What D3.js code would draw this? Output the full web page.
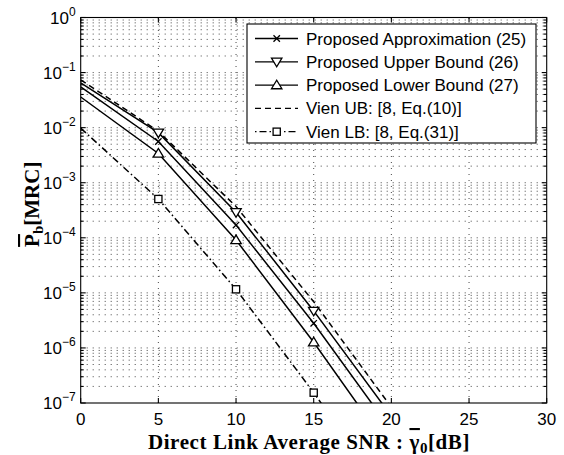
<!DOCTYPE html>
<html>
<head>
<meta charset="utf-8">
<script src="https://cdn.jsdelivr.net/npm/d3@7"></script>
<style>
  body { margin: 0; background: #fff; }
  svg { display: block; }
</style>
</head>
<body>
<svg id="chart" width="564" height="455"></svg>
<script>
// Average SNR of the direct link (dB) at which each curve is evaluated
const snrDb = [0, 5, 10, 15, 20];
// Points that carry a marker
const markerSnr = [5, 10, 15];

// Bit error probability for MRC
const approxVals  = [0.055, 5.6e-3, 1.7e-4, 2.8e-6, 3.2e-8];
const upperVals   = [0.065, 8.1e-3, 2.9e-4, 4.7e-6, 5.8e-8];
const lowerVals   = [0.036, 3.4e-3, 9.1e-5, 1.27e-6, 1.3e-8];
const vienUbVals  = [0.074, 8.6e-3, 3.7e-4, 6.9e-6, 8.4e-8];
const vienLbVals  = [0.0098, 5.06e-4, 1.16e-5, 1.54e-7, 1.6e-9];

const xTicks = [0, 5, 10, 15, 20, 25, 30];
const yExponents = [0, -1, -2, -3, -4, -5, -6, -7];

const seriesNames = [
  "Proposed Approximation (25)",
  "Proposed Upper Bound (26)",
  "Proposed Lower Bound (27)",
  "Vien UB: [8, Eq.(10)]",
  "Vien LB: [8, Eq.(31)]"
];

const series = [
  { name: seriesNames[0], values: approxVals, marker: "x",    dash: null },
  { name: seriesNames[1], values: upperVals,  marker: "tdown", dash: null },
  { name: seriesNames[2], values: lowerVals,  marker: "tup",  dash: null },
  { name: seriesNames[3], values: vienUbVals, marker: null,   dash: "6,4" },
  { name: seriesNames[4], values: vienLbVals, marker: "square", dash: "7,3,1.5,3" }
];

const svg = d3.select("#chart");
const plot = { left: 80.7, top: 17.5, right: 546.7, bottom: 403 };

const x = d3.scaleLinear().domain([0, 30]).range([plot.left, plot.right]);
const y = d3.scaleLog().domain([1e-7, 1]).range([plot.bottom, plot.top]);

const tickFont = "'Liberation Sans', Arial, Helvetica, sans-serif";
const texFont = "'Liberation Serif', 'Times New Roman', serif";

// grid
const grid = svg.append("g").attr("class", "grid")
  .attr("stroke", "#333").attr("stroke-width", 0.9).attr("stroke-dasharray", "1,5");
xTicks.slice(1, -1).forEach(t => {
  grid.append("line").attr("x1", x(t)).attr("x2", x(t))
    .attr("y1", plot.bottom).attr("y2", plot.top);
});
const yMajor = yExponents.map(e => Math.pow(10, e));
const yMinor = [];
for (let e = -7; e < 0; e++) for (let m = 2; m <= 9; m++) yMinor.push(m * Math.pow(10, e));
yMajor.concat(yMinor).forEach(v => {
  if (v >= 1 || v <= 1e-7) return;
  grid.append("line").attr("x1", plot.left).attr("x2", plot.right)
    .attr("y1", y(v)).attr("y2", y(v));
});

// data
svg.append("clipPath").attr("id", "plotClip").append("rect")
  .attr("x", plot.left).attr("y", plot.top)
  .attr("width", plot.right - plot.left).attr("height", plot.bottom - plot.top);

const line = d3.line().x(d => x(d[0])).y(d => y(d[1]));
const dataG = svg.append("g").attr("clip-path", "url(#plotClip)");

function drawMarker(g, type, cx, cy) {
  const s = g.append("g").attr("fill", "none").attr("stroke", "#000").attr("stroke-width", 1.3);
  if (type === "x") {
    const r = 3.2;
    s.append("path").attr("d", `M${cx - r},${cy - r}L${cx + r},${cy + r}M${cx - r},${cy + r}L${cx + r},${cy - r}`);
  } else if (type === "tdown") {
    const r = 5.2;
    s.append("path").attr("d", `M${cx - r},${cy - r * 0.7}L${cx + r},${cy - r * 0.7}L${cx},${cy + r * 0.95}Z`).attr("fill", "#fff");
  } else if (type === "tup") {
    const r = 5.2;
    s.append("path").attr("d", `M${cx - r},${cy + r * 0.7}L${cx + r},${cy + r * 0.7}L${cx},${cy - r * 0.95}Z`).attr("fill", "#fff");
  } else if (type === "square") {
    const r = 3.6;
    s.append("rect").attr("x", cx - r).attr("y", cy - r).attr("width", 2 * r).attr("height", 2 * r).attr("fill", "#fff");
  }
}

series.forEach(sr => {
  const pts = snrDb.map((d, i) => [d, sr.values[i]]);
  dataG.append("path").attr("d", line(pts))
    .attr("fill", "none").attr("stroke", "#000").attr("stroke-width", 1.5)
    .attr("stroke-dasharray", sr.dash);
});
series.forEach(sr => {
  if (!sr.marker) return;
  markerSnr.forEach(s => {
    const i = snrDb.indexOf(s);
    drawMarker(dataG, sr.marker, x(s), y(sr.values[i]));
  });
});

// axes box and ticks
const axisG = svg.append("g").attr("stroke", "#000").attr("stroke-width", 1.1);
axisG.append("rect").attr("x", plot.left).attr("y", plot.top)
  .attr("width", plot.right - plot.left).attr("height", plot.bottom - plot.top)
  .attr("fill", "none");
const tickLen = 5;
xTicks.forEach(t => {
  axisG.append("line").attr("x1", x(t)).attr("x2", x(t)).attr("y1", plot.bottom).attr("y2", plot.bottom - tickLen);
  axisG.append("line").attr("x1", x(t)).attr("x2", x(t)).attr("y1", plot.top).attr("y2", plot.top + tickLen);
});
yMajor.forEach(v => {
  axisG.append("line").attr("x1", plot.left).attr("x2", plot.left + tickLen).attr("y1", y(v)).attr("y2", y(v));
  axisG.append("line").attr("x1", plot.right).attr("x2", plot.right - tickLen).attr("y1", y(v)).attr("y2", y(v));
});
yMinor.forEach(v => {
  axisG.append("line").attr("x1", plot.left).attr("x2", plot.left + 3).attr("y1", y(v)).attr("y2", y(v));
  axisG.append("line").attr("x1", plot.right).attr("x2", plot.right - 3).attr("y1", y(v)).attr("y2", y(v));
});

// tick labels
svg.append("g").selectAll("text").data(xTicks).join("text")
  .attr("x", d => x(d)).attr("y", plot.bottom + 22)
  .attr("text-anchor", "middle")
  .attr("font-family", tickFont).attr("font-size", 17)
  .text(d => d);

const yl = svg.append("g").selectAll("text").data(yExponents).join("text")
  .attr("x", plot.left - 5).attr("y", d => y(Math.pow(10, d)) + 6)
  .attr("text-anchor", "end")
  .attr("font-family", tickFont).attr("font-size", 17);
yl.append("tspan").text("10");
yl.append("tspan").attr("dy", -8).attr("font-size", 12)
  .text(d => d === 0 ? "0" : "\u2212" + Math.abs(d));

// axis titles
const xTitle = svg.append("text")
  .attr("x", 309).attr("y", 449)
  .attr("text-anchor", "middle")
  .attr("font-family", texFont).attr("font-weight", "bold").attr("font-size", 21)
  .attr("letter-spacing", 0.6);
xTitle.append("tspan").text("Direct Link Average SNR : ");
xTitle.append("tspan").style("text-decoration", "overline").text("\u03B3");
xTitle.append("tspan").attr("dy", 4).attr("font-size", 15).text("0");
xTitle.append("tspan").attr("dy", -4).text("[dB]");

const yTitle = svg.append("text")
  .attr("transform", `translate(39,${(plot.top + plot.bottom) / 2 - 6}) rotate(-90)`)
  .attr("text-anchor", "middle")
  .attr("font-family", texFont).attr("font-weight", "bold").attr("font-size", 21);
yTitle.append("tspan").style("text-decoration", "overline").text("P");
yTitle.append("tspan").attr("dy", 4).attr("font-size", 15).text("b");
yTitle.append("tspan").attr("dy", -4).text("[MRC]");

// legend
const lg = { x: 247, y: 24, w: 289, h: 119, row: 23.3 };
const legend = svg.append("g");
legend.append("rect").attr("x", lg.x).attr("y", lg.y).attr("width", lg.w).attr("height", lg.h)
  .attr("fill", "#fff").attr("stroke", "#000").attr("stroke-width", 1.1);
series.forEach((sr, i) => {
  const cy = lg.y + 14.5 + i * lg.row;
  legend.append("line").attr("x1", lg.x + 8).attr("x2", lg.x + 51)
    .attr("y1", cy).attr("y2", cy)
    .attr("stroke", "#000").attr("stroke-width", 1.3)
    .attr("stroke-dasharray", sr.dash ? (sr.marker ? "1.5,3,7,3" : "6,4") : null);
  if (sr.marker) drawMarker(legend, sr.marker, lg.x + 29.7, cy);
  legend.append("text").attr("x", lg.x + 59).attr("y", cy + 6)
    .attr("font-family", tickFont).attr("font-size", 17)
    .text(sr.name);
});
</script>
</body>
</html>
